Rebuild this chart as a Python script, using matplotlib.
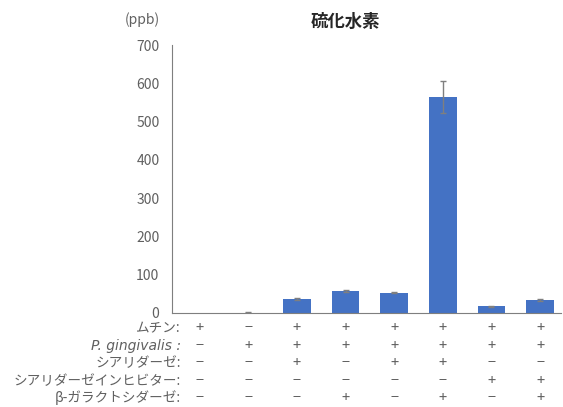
import matplotlib.pyplot as plt
import matplotlib.transforms as mtransforms

plt.rcParams['font.family'] = ['Noto Sans CJK JP', 'DejaVu Sans']

# bar values (ppb) and error bars
values = [0, 1, 36, 57, 53, 565, 17, 34]
errors = [0, 0.5, 3, 2, 2, 42, 1.5, 3]

# condition table below the chart
row_labels = ['ムチン:', 'P. gingivalis :', 'シアリダーゼ:', 'シアリダーゼインヒビター:', 'β-ガラクトシダーゼ:']
row_signs = [
    ['+', '−', '+', '+', '+', '+', '+', '+'],
    ['−', '+', '+', '+', '+', '+', '+', '+'],
    ['−', '−', '+', '−', '+', '+', '−', '−'],
    ['−', '−', '−', '−', '−', '−', '+', '+'],
    ['−', '−', '−', '+', '−', '+', '−', '+'],
]

TEXT = '#606060'
BAR = '#4472C4'

fig = plt.figure(figsize=(5.63, 4.07), dpi=100)
ax = fig.add_axes([0.3055, 0.231, 0.691, 0.658])

x = list(range(len(values)))
ax.bar(x, values, width=0.57, color=BAR, zorder=2)
ax.errorbar(x[1:], values[1:], yerr=errors[1:], fmt='none', ecolor='#7f7f7f',
            elinewidth=1, capsize=2, capthick=1, zorder=3)

ax.set_xlim(-0.57, 7.43)
ax.set_ylim(0, 700)
ax.set_yticks(range(0, 701, 100))
ax.set_xticks([])
ax.tick_params(axis='y', length=0, labelsize=10, labelcolor=TEXT, pad=9)
for s in ['top', 'right']:
    ax.spines[s].set_visible(False)
ax.spines['left'].set_color('#7f7f7f')
ax.spines['bottom'].set_color('#7f7f7f')

fig.text(0.613, 0.945, '硫化水素', ha='center', va='center', fontsize=12.5, fontweight='bold', color='#262626')
fig.text(0.222, 0.952, '(ppb)', ha='left', va='center', fontsize=10, color=TEXT)

trans = mtransforms.blended_transform_factory(ax.transData, fig.transFigure)
row_y = [0.194, 0.150, 0.108, 0.064, 0.022]
for lab, signs, yy in zip(row_labels, row_signs, row_y):
    if 'gingivalis' in lab:
        fig.text(0.321, yy, lab, ha='right', va='center', fontsize=10, color=TEXT,
                 style='italic', family=['DejaVu Sans'])
    else:
        fig.text(0.321, yy, lab, ha='right', va='center', fontsize=9.8, color=TEXT)
    for xi, s in zip(x, signs):
        ax.text(xi, yy, s, transform=trans, ha='center', va='center', fontsize=10.5, color=TEXT)

fig.savefig('out.png', dpi=100)
